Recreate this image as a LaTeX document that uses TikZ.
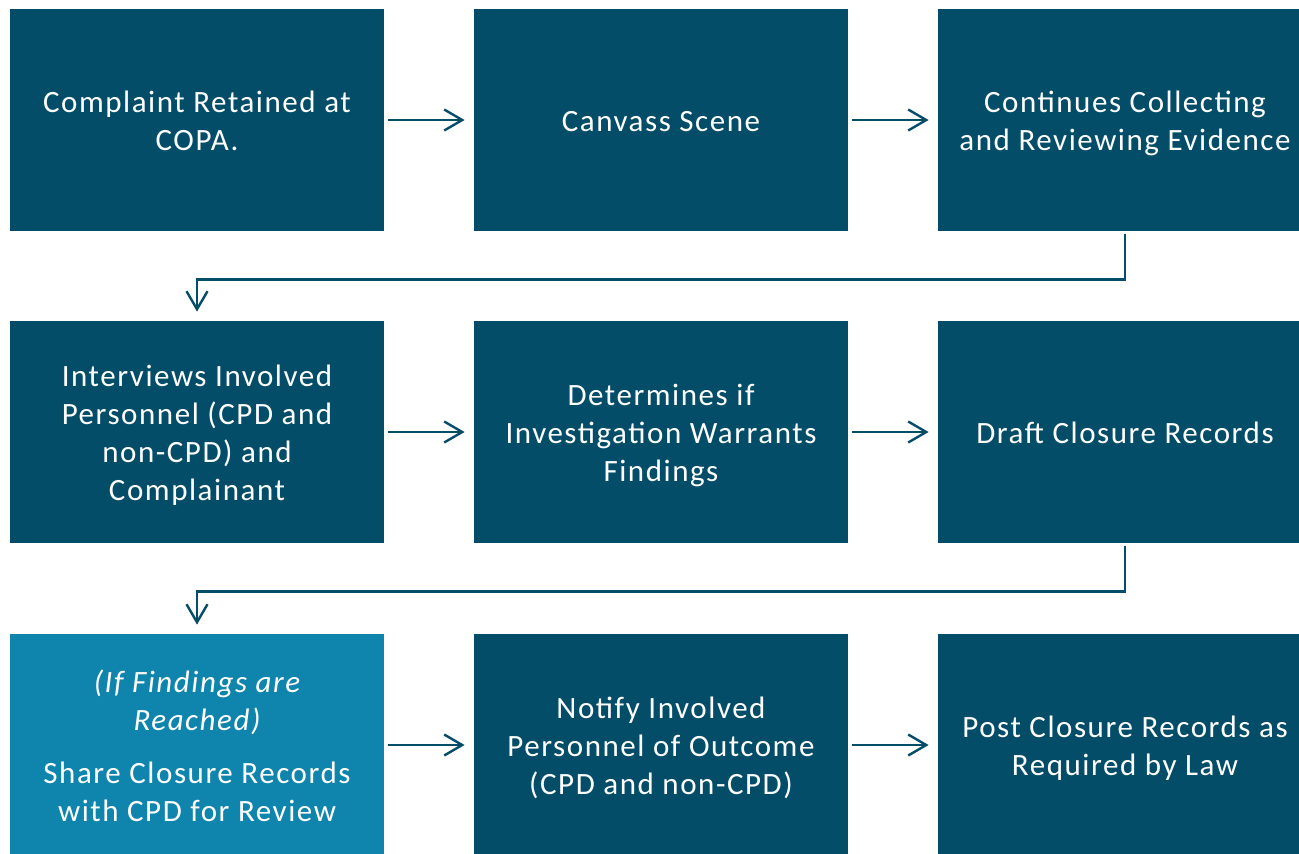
\documentclass[tikz,border=0pt]{standalone}
\usepackage{fontspec}
\setmainfont{Carlito}[LetterSpace=5]
\usetikzlibrary{arrows.meta,calc}
\definecolor{darkteal}{HTML}{034D69}
\definecolor{lightteal}{HTML}{0F84AD}
\newcommand{\Lf}[1]{\rule{0pt}{11.5pt}\smash{#1}}
\newcommand{\Ll}[1]{\smash{#1}}
\begin{document}
\begin{tikzpicture}[x=0.5pt,y=-0.5pt,
  box/.style={fill=darkteal,draw=none,minimum width=187pt,minimum height=111pt,
    text=white,align=center,font=\fontsize{15.5}{19}\selectfont,inner sep=0pt},
  lightbox/.style={box,fill=lightteal},
  conn/.style={draw=darkteal,line width=1.2pt,-{Straight Barb[length=9pt,width=10.5pt,line width=1.2pt]}},
  harrow/.style={conn,shorten <=2pt,shorten >=4.5pt},
  varrow/.style={conn,shorten >=4.5pt}
]
\useasboundingbox (0,0) rectangle (1299,853);
\begin{scope}
\clip (0,0) rectangle (1299,853);
\node[box] (b1) at (197,120) {\Lf{Complaint Retained at}\\\Ll{COPA.}};
\node[box] (b2) at (661,120) {\Lf{Canvass Scene}};
\node[box] (b3) at (1125,120) {\Lf{Continues Collecting}\\\Ll{and Reviewing Evidence}};
\node[box] (b4) at (197,432) {\Lf{Interviews Involved}\\Personnel (CPD and\\non-CPD) and\\\Ll{Complainant}};
\node[box] (b5) at (661,432) {\Lf{Determines if}\\Investigation Warrants\\\Ll{Findings}};
\node[box] (b6) at (1125,432) {\Lf{Draft Closure Records}};
\node[lightbox] (b7) at (197,745) {\Lf{\itshape (If Findings are}\\\itshape Reached)\\[7.5pt]Share Closure Records\\\Ll{with CPD for Review}};
\node[box] (b8) at (661,745) {\Lf{Notify Involved}\\Personnel of Outcome\\\Ll{(CPD and non-CPD)}};
\node[box] (b9) at (1125,745) {\Lf{Post Closure Records as}\\\Ll{Required by Law}};
\end{scope}
\draw[harrow] (b1) -- (b2);
\draw[harrow] (b2) -- (b3);
\draw[harrow] (b4) -- (b5);
\draw[harrow] (b5) -- (b6);
\draw[harrow] (b7) -- (b8);
\draw[harrow] (b8) -- (b9);
\draw[varrow] ([yshift=-1.5pt]b3.south) -- ++(0,45) -| (b4.north);
\draw[varrow] ([yshift=-1.5pt]b6.south) -- ++(0,45) -| (b7.north);
\end{tikzpicture}
\end{document}
